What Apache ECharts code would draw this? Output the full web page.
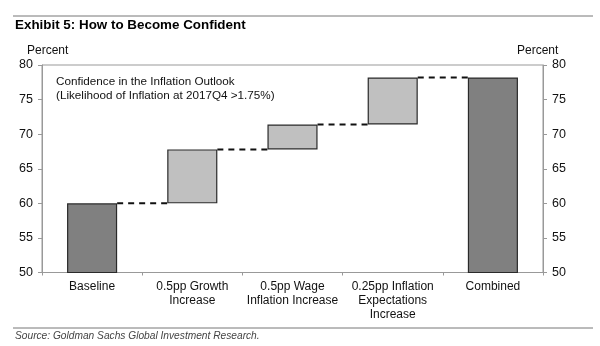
<!DOCTYPE html>
<html><head><meta charset="utf-8">
<script src="https://cdn.jsdelivr.net/npm/echarts@6/dist/echarts.min.js"></script>
<style>html,body{margin:0;padding:0;background:#fff}#c{width:600px;height:346px}</style>
</head><body><div id="c"></div>
<script>
var categories = ['Baseline', '0.5pp Growth\nIncrease', '0.5pp Wage\nInflation Increase', '0.25pp Inflation\nExpectations\nIncrease', 'Combined'];
var barStart = [0, 60, 67.8, 71.4, 0];
var barHeight = [60, 7.8, 3.6, 6.8, 78.2];
var barKind = ['total', 'step', 'step', 'step', 'total'];
var connectorLevels = [60, 67.8, 71.4, 78.2];
var yTicks = [50, 55, 60, 65, 70, 75, 80];

var FONT = '"Liberation Sans", Arial, sans-serif';
var chart = echarts.init(document.getElementById('c'), null, {renderer: 'canvas'});

var visibleData = barHeight.map(function (v, i) {
  return {value: v, itemStyle: {color: barKind[i] === 'total' ? '#808080' : '#c0c0c0'}};
});
var connectorData = connectorLevels.map(function (v, i) { return [i, v]; });

var axisCommon = {
  type: 'value', min: yTicks[0], max: yTicks[yTicks.length - 1], interval: 5,
  splitLine: {show: false},
  axisLine: {show: true, lineStyle: {color: '#999', width: 1}},
  axisTick: {show: true, length: 4, lineStyle: {color: '#999'}},
  axisLabel: {color: '#111', fontSize: 12.5, fontFamily: FONT, margin: 9}
};

chart.setOption({
  animation: false,
  textStyle: {fontFamily: FONT},
  grid: {left: 42, right: 57, top: 65, bottom: 73.5, show: true, borderColor: '#999', borderWidth: 1},
  xAxis: {
    type: 'category', data: categories,
    axisLine: {lineStyle: {color: '#999'}},
    axisTick: {show: true, length: 3, lineStyle: {color: '#999'}},
    axisLabel: {color: '#111', fontSize: 12, fontFamily: FONT, lineHeight: 14, margin: 7, interval: 0}
  },
  yAxis: [
    Object.assign({}, axisCommon, {position: 'left'}),
    Object.assign({}, axisCommon, {position: 'right'})
  ],
  series: [
    {type: 'bar', stack: 'w', data: barStart, barWidth: '50%', itemStyle: {color: 'transparent'}, silent: true},
    {type: 'bar', stack: 'w', data: visibleData, barWidth: '50%', itemStyle: {borderColor: '#2a2a2a', borderWidth: 1.2}},
    {
      type: 'custom', data: connectorData, z: 5,
      renderItem: function (params, api) {
        var i = api.value(0), v = api.value(1);
        var band = api.size([1, 0])[0];
        var p1 = api.coord([i, v]);
        var p2 = api.coord([i + 1, v]);
        return {
          type: 'line',
          shape: {x1: p1[0] + band * 0.25, y1: p1[1], x2: p2[0] - band * 0.25, y2: p2[1]},
          style: {stroke: '#111', lineWidth: 2, lineDash: [6, 5]}
        };
      }
    }
  ],
  graphic: [
    {type: 'line', shape: {x1: 13, y1: 16, x2: 593, y2: 16}, style: {stroke: '#777', lineWidth: 1}},
    {type: 'text', left: 15, top: 19, style: {text: 'Exhibit 5: How to Become Confident', font: 'bold 13.4px ' + FONT, fill: '#000'}},
    {type: 'text', left: 27, top: 45, style: {text: 'Percent', font: '12px ' + FONT, fill: '#111'}},
    {type: 'text', left: 517, top: 45, style: {text: 'Percent', font: '12px ' + FONT, fill: '#111'}},
    {type: 'text', left: 56, top: 75, style: {text: 'Confidence in the Inflation Outlook\n(Likelihood of Inflation at 2017Q4 >1.75%)', font: '11.7px ' + FONT, fill: '#111', lineHeight: 14}},
    {type: 'line', shape: {x1: 13, y1: 328, x2: 593, y2: 328}, style: {stroke: '#777', lineWidth: 1}},
    {type: 'text', left: 15, top: 331, style: {text: 'Source: Goldman Sachs Global Investment Research.', font: 'italic 10.2px ' + FONT, fill: '#444'}}
  ]
});
</script></body></html>
